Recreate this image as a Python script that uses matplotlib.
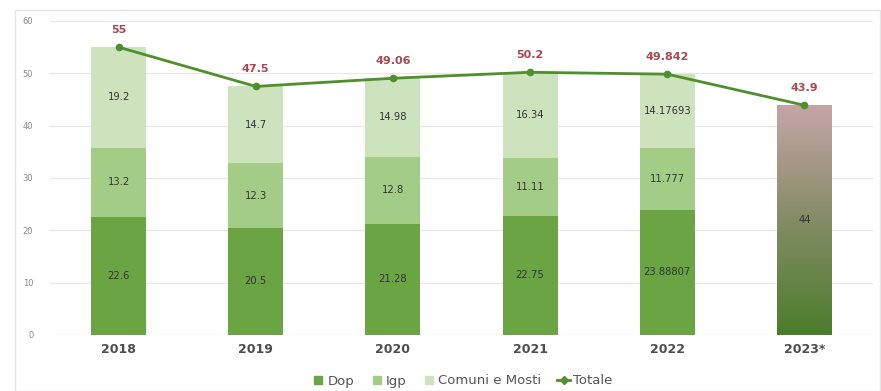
import matplotlib
matplotlib.use("Agg")
import matplotlib.pyplot as plt
import numpy as np
from matplotlib.colors import LinearSegmentedColormap
from matplotlib.patches import Rectangle
from matplotlib.lines import Line2D

years = ["2018", "2019", "2020", "2021", "2022", "2023*"]
dop = [22.6, 20.5, 21.28, 22.75, 23.88807]
igp = [13.2, 12.3, 12.8, 11.11, 11.777]
comuni = [19.2, 14.7, 14.98, 16.34, 14.17693]
dop_lbl = ["22.6", "20.5", "21.28", "22.75", "23.88807"]
igp_lbl = ["13.2", "12.3", "12.8", "11.11", "11.777"]
com_lbl = ["19.2", "14.7", "14.98", "16.34", "14.17693"]
est_2023 = 44
est_lbl = "44"
totale = [55, 47.5, 49.06, 50.2, 49.842, 43.9]
tot_lbl = ["55", "47.5", "49.06", "50.2", "49.842", "43.9"]

c_dop = "#6aa443"
c_igp = "#a3cd87"
c_com = "#cde3bd"
c_line = "#4f8f2c"
c_red = "#a5484f"

fig = plt.figure(figsize=(8.81, 3.91), dpi=100)
fig.patches.append(Rectangle((15/881, 0), 865/881, (391-10)/391, transform=fig.transFigure,
                             fill=False, edgecolor="#e6e6e6", linewidth=1.0))
ax = fig.add_axes([50/881, 56/391, 823/881, 314/391])

x = np.arange(len(years))
w = 0.4
n = len(dop)
ax.bar(x[:n], dop, w, color=c_dop, zorder=2)
ax.bar(x[:n], igp, w, bottom=dop, color=c_igp, zorder=2)
b2 = np.array(dop) + np.array(igp)
ax.bar(x[:n], comuni, w, bottom=b2, color=c_com, zorder=2)

# gradient bar 2023*
cmap = LinearSegmentedColormap.from_list("g", ["#4a7d2b", "#858c66", "#c7a5a8"])
grad = np.linspace(0, 1, 256).reshape(-1, 1)
xb = x[5]
im = ax.imshow(grad, extent=[xb - w/2, xb + w/2, 0, est_2023], origin="lower",
               cmap=cmap, aspect="auto", zorder=2)
rect = Rectangle((xb - w/2, 0), w, est_2023, transform=ax.transData, facecolor="none", edgecolor="none")
ax.add_patch(rect)
im.set_clip_path(rect)

lab_kw = dict(ha="center", va="center", fontsize=7.2, color="#333333", zorder=4)
for i in range(n):
    ax.text(x[i], dop[i]/2, dop_lbl[i], **lab_kw)
    ax.text(x[i], dop[i] + igp[i]/2, igp_lbl[i], **lab_kw)
    ax.text(x[i], b2[i] + comuni[i]/2, com_lbl[i], **lab_kw)
ax.text(xb, est_2023/2, est_lbl, **lab_kw)

ax.plot(x, totale, color=c_line, linewidth=2, marker="o", markersize=4.5, zorder=5)
for i, t in enumerate(totale):
    ax.text(x[i], t + 2.3, tot_lbl[i], ha="center", va="bottom", fontsize=8,
            color=c_red, fontweight="bold", zorder=6)

ax.set_xlim(-0.5, 5.5)
ax.set_ylim(0, 60)
ax.set_yticks(range(0, 61, 10))
ax.set_xticks(x)
ax.set_xticklabels(years, fontsize=9, color="#4d4d4d", fontweight="bold")
ax.tick_params(axis="y", labelsize=6, labelcolor="#888888", length=0, pad=12)
ax.tick_params(axis="x", length=0, pad=6)
ax.grid(axis="y", color="#e8e8e8", linewidth=0.9, zorder=0)
for s in ax.spines.values():
    s.set_visible(False)
ax.set_axisbelow(True)

handles = [
    Line2D([], [], marker="s", linestyle="none", color=c_dop, markersize=6),
    Line2D([], [], marker="s", linestyle="none", color=c_igp, markersize=6),
    Line2D([], [], marker="s", linestyle="none", color=c_com, markersize=6),
    Line2D([], [], marker="D", color=c_line, linewidth=2, markersize=4.5),
]
fig.legend(handles, ["Dop", "Igp", "Comuni e Mosti", "Totale"], loc="center",
           bbox_to_anchor=(462/881, 1 - 381/391), ncol=4, frameon=False, fontsize=9.5,
           handlelength=1.0, handletextpad=0.2, columnspacing=1.2, labelcolor="#555555")

fig.savefig("out.png", dpi=100)
